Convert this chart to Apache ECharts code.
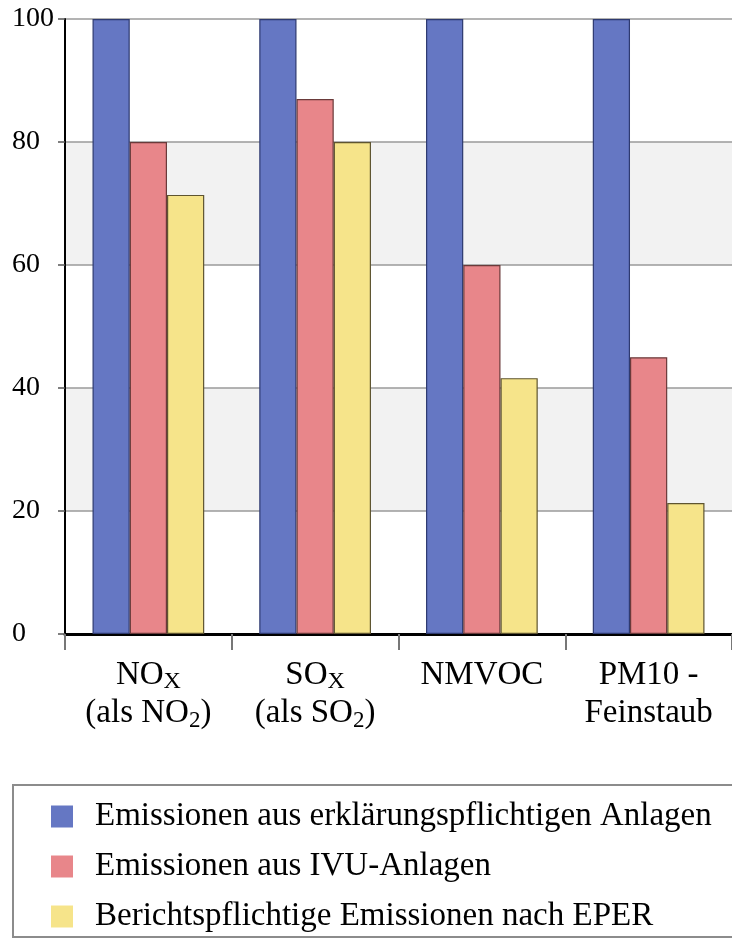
<!DOCTYPE html>
<html>
<head>
<meta charset="utf-8">
<script src="https://cdn.jsdelivr.net/npm/echarts@6/dist/echarts.min.js"></script>
<style>
html,body{margin:0;padding:0;background:#fff;}
#chart{width:732px;height:940px;}
</style>
</head>
<body>
<div id="chart"></div>
<script>
var categories = ['NO{s|X}\n(als NO{t|2})', 'SO{s|X}\n(als SO{t|2})', 'NMVOC', 'PM10 -\nFeinstaub'];
var seriesNames = ['Emissionen aus erklärungspflichtigen Anlagen', 'Emissionen aus IVU-Anlagen', 'Berichtspflichtige Emissionen nach EPER'];
var erklaerung = [100, 100, 100, 100];
var ivu = [80, 87, 60, 45];
var eper = [71.4, 80, 41.6, 21.3];
var yTicks = [0, 20, 40, 60, 80, 100];

var fills = ['#6577c3', '#e8868a', '#f6e48a'];
var borders = ['#2e3a70', '#6a3a3a', '#5e5430'];
var values = [erklaerung, ivu, eper];
var FONT = 'Liberation Serif';

var chart = echarts.init(document.getElementById('chart'));
chart.setOption({
  animation: false,
  backgroundColor: '#fff',
  grid: { left: 65, right: -9, top: 17, bottom: 306, containLabel: false },
  graphic: [{
    type: 'rect', z: -1,
    shape: { x: 13, y: 785, width: 740, height: 152 },
    style: { fill: '#fff', stroke: '#8c8c8c', lineWidth: 2 }
  }],
  legend: {
    orient: 'vertical', left: 46, top: 795,
    itemWidth: 22, itemHeight: 22, itemGap: 17,
    icon: 'rect',
    itemStyle: { borderWidth: 0 },
    textStyle: { fontFamily: FONT, fontSize: 33, lineHeight: 33, color: '#000', padding: [0, 0, 0, 17] },
    data: seriesNames
  },
  xAxis: {
    type: 'category',
    data: categories,
    axisLine: { lineStyle: { color: '#000', width: 3 } },
    axisTick: { show: true, interval: 0, length: 16, lineStyle: { color: '#777', width: 2 } },
    axisLabel: {
      interval: 0,
      margin: 22, color: '#000', fontFamily: FONT, fontSize: 33, lineHeight: 38,
      rich: {
        s: { fontFamily: FONT, fontSize: 24, lineHeight: 14, verticalAlign: 'bottom', color: '#000' },
        t: { fontFamily: FONT, fontSize: 23, lineHeight: 6, verticalAlign: 'bottom', color: '#000' }
      }
    },
    splitLine: { show: false }
  },
  yAxis: {
    type: 'value', min: 0, max: 100, interval: 20,
    axisLine: { show: true, lineStyle: { color: '#000', width: 2 } },
    axisTick: { show: true, length: 7, lineStyle: { color: '#555', width: 1.5 } },
    axisLabel: {
      color: '#000', fontFamily: FONT, fontSize: 28, align: 'left', margin: 53,
      lineHeight: 28, padding: [10, 0, 0, 0],
      formatter: function (v) { return yTicks.indexOf(v) >= 0 ? String(v) : ''; }
    },
    splitLine: { show: true, lineStyle: { color: '#9a9a9a', width: 1.5 } },
    splitArea: { show: true, areaStyle: { color: ['#ffffff', '#f2f2f2'] } }
  },
  series: seriesNames.map(function (name, i) {
    return {
      name: name, type: 'bar', data: values[i],
      barGap: '0%', barCategoryGap: '33%',
      itemStyle: { color: fills[i], borderColor: borders[i], borderWidth: 1.2 }
    };
  })
});
</script>
</body>
</html>
